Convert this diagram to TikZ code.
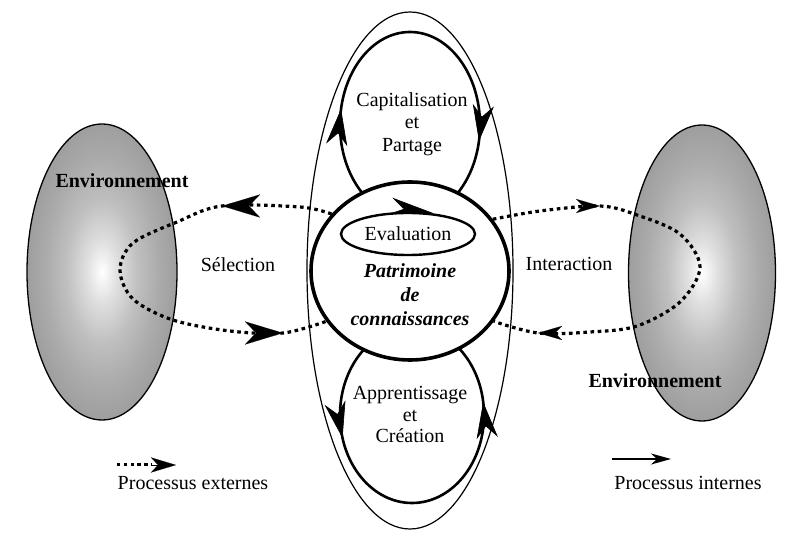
\documentclass[tikz,border=0pt]{standalone}
\usepackage{fontspec}
\setmainfont{Liberation Serif}
\usetikzlibrary{shapes.geometric,arrows.meta}
\pgfdeclareradialshading{envshade}{\pgfpoint{0bp}{0bp}}{color(0bp)=(white); color(5bp)=(black!12); color(12bp)=(black!25); color(19bp)=(black!33); color(25bp)=(black!38); color(50bp)=(black!38)}
\begin{document}
\begin{tikzpicture}[x=1pt,y=1pt,
  txt/.style={font=\fontsize{20}{24}\selectfont, inner sep=0pt},
  envell/.style={ellipse, draw, line width=1.3pt, shade, shading=envshade, inner sep=0pt},
  thinell/.style={ellipse, draw, line width=1.2pt, inner sep=0pt},
  loopell/.style={ellipse, draw, line width=2.6pt, inner sep=0pt},
  headshape/.style={fill=black, draw=black, line width=0.6pt, line join=miter},
  extdot/.style={line width=3.2pt, dash pattern=on 3.6pt off 3.6pt},
  bigtip/.style={line width=0.1pt, -{Stealth[length=38pt, width=23pt, inset=11pt]}},
  smalltip/.style={line width=0.1pt, -{Stealth[length=24pt, width=14pt, inset=7pt]}},
]
\fill[white] (0,0) rectangle (795,557);
\useasboundingbox (0,0) rectangle (795,557);

% environments
\node[envell, minimum width=150pt, minimum height=296pt] (envL) at (102,285) {};
\node[envell, minimum width=147pt, minimum height=296pt] (envR) at (702,284) {};

% outer ellipse
\node[thinell, minimum width=206pt, minimum height=517pt] (outer) at (410,286.5) {};

% internal loops
\node[loopell, minimum width=140pt, minimum height=186pt] (capl) at (410,432) {};
\node[loopell, minimum width=144pt, minimum height=176pt] (appl) at (412,142) {};

% central patrimoine
\node[ellipse, draw, fill=white, line width=3.6pt, inner sep=0pt,
      minimum width=198pt, minimum height=178pt] (pat) at (410,286) {};

% loop arrowheads (tangent to the loops), barbed heads
\coordinate (c1t) at (340.9,447);
\coordinate (c2t) at (479.1,417);
\coordinate (a1t) at (342.3,120);
\coordinate (a2t) at (483.3,153.9);
\fill[headshape, shift={(c1t)}, rotate=83]   (0,0) -- (-34,10) -- (-23,0) -- (-34,-10) -- cycle;
\fill[headshape, shift={(c2t)}, rotate=263]  (0,0) -- (-34,10) -- (-23,0) -- (-34,-10) -- cycle;
\fill[headshape, shift={(a1t)}, rotate=-78]  (0,0) -- (-34,10) -- (-23,0) -- (-34,-10) -- cycle;
\fill[headshape, shift={(a2t)}, rotate=96.4] (0,0) -- (-34,10) -- (-23,0) -- (-34,-10) -- cycle;

% evaluation
\node[ellipse, draw, line width=2.4pt, inner sep=0pt, minimum width=134pt, minimum height=42pt,
      font=\fontsize{20}{24}\selectfont] (eval) at (408,323) {Evaluation};
\coordinate (e1t) at (432,344);
\fill[headshape, shift={(e1t)}, rotate=-8] (0,0) -- (-40,9) -- (-28,0) -- (-40,-6) -- cycle;

% external processes (dotted loops)
\coordinate (tipL1) at (222,351);
\coordinate (tipL2) at (283,224);
\coordinate (farL) at (120,287);
\coordinate (tipR1) at (600,351);
\coordinate (tipR2) at (538,224);
\coordinate (farR) at (700,290);
\draw[extdot] plot[smooth, tension=0.55] coordinates {(pat.144) (300,350) (tipL1) (177,335) (133,314) (farL) (133,258) (173,237) (230,226) (tipL2) (pat.211)};
\draw[extdot] plot[smooth, tension=0.55] coordinates {(pat.32) (540,346) (tipR1) (637,342) (680,323) (farR) (680,255) (637,231) (590,225) (tipR2) (pat.-31)};
\draw[bigtip] ([xshift=6pt]tipL1) -- (tipL1);
\draw[bigtip] ([xshift=-6pt]tipL2) -- (tipL2);
\draw[smalltip] ([xshift=-6pt]tipR1) -- (tipR1);
\draw[smalltip] ([xshift=6pt]tipR2) -- (tipR2);

% texts
\node[txt, align=center, font=\fontsize{20}{22.5}\selectfont] (captxt) at (412,433) {Capitalisation\\et\\Partage};
\node[txt, align=center, font=\fontsize{20}{24}\selectfont\bfseries\itshape] (pattxt) at (410,262) {Patrimoine\\de\\connaissances};
\node[txt, align=center, font=\fontsize{20}{21.5}\selectfont] (apptxt) at (410,142.5) {Apprentissage\\et\\Création};
\node[txt, anchor=base] (sel) at (238,285) {Sélection};
\node[txt, anchor=base] (inter) at (569,286) {Interaction};
\node[txt, anchor=base, font=\fontsize{20}{24}\selectfont\bfseries] (envLtxt) at (122,369) {Environnement};
\node[txt, anchor=base, font=\fontsize{20}{24}\selectfont\bfseries] (envRtxt) at (655,169) {Environnement};

% legend
\coordinate (lgA) at (117,92);
\coordinate (lgM) at (152,92);
\coordinate (lgB) at (176,92);
\draw[line width=3pt, dash pattern=on 3.4pt off 3.4pt] (lgA) -- (lgM);
\draw[line width=0.1pt, -{Stealth[length=25pt, width=15pt, inset=7pt]}] (lgM) -- (lgB);
\node[txt, anchor=base] (ext) at (193,67) {Processus externes};
\coordinate (lgC) at (612,98);
\coordinate (lgD) at (671,98);
\draw[line width=2pt, -{Stealth[length=20pt, width=11pt, inset=6pt]}] (lgC) -- (lgD);
\node[txt, anchor=base] (int) at (688,67) {Processus internes};
\end{tikzpicture}
\end{document}
